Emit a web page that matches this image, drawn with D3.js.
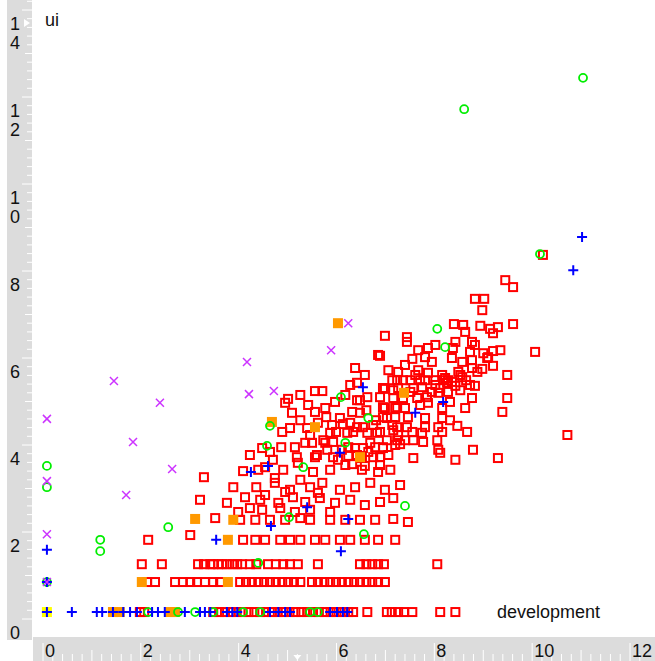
<!DOCTYPE html>
<html>
<head>
<meta charset="utf-8">
<script src="https://cdn.jsdelivr.net/npm/d3@7.9.0/dist/d3.min.js"></script>
<style>
  html, body { margin: 0; padding: 0; background: #fff; }
  svg { display: block; }
  text { font-family: "Liberation Sans", Arial, sans-serif; fill: #111; }
</style>
</head>
<body>
<svg id="chart" width="655" height="661"></svg>
<script>
// axis names and tick labels
const xName = 'development';
const yName = 'ui';
const xLabels = [0, 2, 4, 6, 8, 10, 12];
const yLabels = [0, 2, 4, 6, 8, 10, 12, 14];

// points per class, [development, ui]
const redPoints = [
  [8.83,7.36],[9.02,7.36],[8.98,7.10],[9.61,7.63],[9.45,7.79],[10.22,8.37],
  [8.40,6.78],[8.59,6.76],[8.63,6.60],[8.94,6.74],[9.14,6.67],[9.30,6.71],[9.20,6.57],[9.61,6.78],
  [6.99,6.51],[7.44,6.48],[7.44,6.37],
  [8.43,6.37],[8.77,6.37],[8.83,6.30],[8.02,6.30],[8.38,6.23],[8.36,6.00],[8.73,6.14],[9.00,6.11],[9.10,6.02],[9.20,6.16],[9.35,6.18],[10.06,6.14],
  [7.67,6.18],[7.87,6.23],[7.81,6.02],[7.95,5.91],[7.55,5.98],[7.40,5.84],[6.89,6.05],
  [8.77,5.95],[9.08,6.00],[8.77,5.77],[8.98,5.75],[9.20,5.82],
  [7.26,5.68],[7.67,5.72],[7.87,5.66],[8.16,5.61],[8.53,5.61],[8.57,5.56],[9.49,5.61],[8.83,5.36],
  [7.24,5.49],[7.36,5.49],[7.51,5.49],[7.71,5.49],[8.02,5.49],[8.18,5.49],[8.28,5.49],
  [6.95,5.31],[7.16,5.26],[7.57,5.31],[7.75,5.33],[8.02,5.38],[8.26,5.43],[8.43,5.36],
  [7.16,5.08],[7.65,5.08],[7.85,5.10],[8.08,5.20],[8.32,4.99],[8.77,5.08],[9.49,5.08],
  [7.24,4.87],[7.40,4.85],[7.71,4.92],[7.87,4.97],[8.16,4.85],[8.63,4.85],
  [6.99,4.85],[6.95,4.64],[7.20,4.64],[7.46,4.64],[7.81,4.62],[8.16,4.62],[8.32,4.57],[9.39,4.76],
  [7.24,4.41],[7.44,4.41],[7.81,4.41],[8.08,4.41],[8.47,4.44],
  [6.89,4.30],[7.16,4.34],[7.55,4.30],[7.75,4.28],[8.16,4.30],[8.67,4.30],[10.72,4.23],
  [7.03,4.11],[7.24,4.11],[7.57,4.11],[7.77,4.07],[8.06,4.11],
  [6.95,3.93],[7.30,4.02],[8.08,3.89],[8.12,3.82],[8.79,3.89],[9.30,3.70],[8.43,3.66],[7.57,3.70],
  [8.22,5.54],[8.36,5.45],[8.49,5.68],[8.65,5.49],[8.12,5.31],[8.28,5.22],[8.53,5.26],[7.95,5.22],
  [7.81,5.49],[7.61,5.61],[7.51,5.22],[7.36,5.08],[7.26,5.31],[7.14,5.49],[7.06,5.72],[8.73,5.38],[8.88,5.68],[8.57,5.91],
  [6.85,6.07],[6.58,5.61],[6.42,5.43],[6.63,5.10],[6.42,5.03],[6.48,5.03],[6.89,5.10],[6.99,5.29],
  [5.56,5.24],[5.71,5.24],[5.01,5.06],[4.95,4.97],[5.09,4.74],[5.79,4.64],[5.62,4.51],[5.40,4.39],
  [5.99,4.30],[6.13,4.48],[6.28,4.51],[6.42,4.41],[6.54,4.41],[6.75,4.46],[7.03,4.62],[7.20,4.85],[6.95,4.87],[6.48,4.74],
  [6.11,3.89],[6.24,3.75],[6.38,3.93],[6.52,3.70],[6.65,3.84],[6.79,3.95],[6.03,3.66],[6.32,3.56],[6.58,3.52],[6.89,3.54],
  [7.06,3.77],[7.20,4.00],[7.26,4.23],[7.40,4.11],[7.14,4.46],[6.81,4.57],[6.61,4.80],[6.32,4.76],[6.07,4.62],[5.91,4.46],[5.81,3.89],[5.93,4.07],
  [5.26,5.15],[5.42,4.92],[5.56,4.76],[5.26,4.57],[5.05,4.39],[4.89,4.30],[5.46,4.23],[5.77,4.85],[5.97,4.99],[6.18,5.15],[6.28,5.38],[6.38,5.77],
  [4.87,3.95],[5.15,3.95],[5.36,4.05],[5.50,4.05],[5.73,4.11],[5.77,4.05],[5.60,3.77],[5.87,4.28],
  [6.22,4.28],[6.34,4.30],[6.63,4.28],[6.83,4.28],[6.24,3.95],[6.54,3.93],[6.69,4.05],[6.95,3.95],
  [4.23,3.77],[4.70,3.66],[5.19,3.72],[5.56,3.72],[5.93,3.72],[6.42,3.77],[6.75,3.72],[6.89,3.72],
  [4.48,3.93],[4.64,3.84],[4.40,3.43],[4.74,3.24],[4.54,2.85],[4.95,2.92],[5.26,3.20],[5.62,2.90],
  [5.87,2.46],[5.46,2.51],[5.15,2.46],[4.85,2.55],[4.48,2.51],[4.23,2.55],[3.99,2.46],
  [3.29,3.26],[4.09,3.40],[4.54,3.49],[4.91,3.43],[5.21,3.59],[5.52,3.38],[5.87,3.43],[6.18,3.54],[6.52,3.43],[6.85,3.38],[7.10,3.43],
  [3.89,3.03],[4.36,3.03],[4.74,3.13],[5.05,2.97],[5.46,3.03],[5.71,3.13],[6.07,2.97],[6.38,3.03],[6.69,3.13],[6.99,2.97],[7.30,3.08],
  [3.21,2.74],[3.76,2.67],[4.13,2.80],[4.44,2.74],[4.81,2.67],[5.11,2.80],[5.36,2.69],[5.66,2.78],[5.97,2.67],[6.28,2.74],[6.58,2.62],[6.89,2.69],[7.16,2.78],
  [3.52,2.32],[4.03,2.28],[4.34,2.28],[4.64,2.28],[4.95,2.28],[5.26,2.32],[5.46,2.28],[5.87,2.28],[6.18,2.28],[6.48,2.28],[6.79,2.28],[7.16,2.30],[7.46,2.23],
  [2.15,1.82],[3.01,1.93],[4.09,1.82],[4.34,1.82],[4.54,1.82],[4.85,1.82],[5.05,1.82],[5.26,1.82],[5.56,1.82],[5.77,1.82],[6.07,1.82],[6.28,1.82],[6.58,1.82],[6.85,1.82],[7.20,1.82],
  [2.02,1.26],[2.43,1.26],[3.17,1.26],[3.29,1.26],[3.42,1.26],[3.48,1.26],[3.58,1.26],[3.66,1.26],[3.76,1.26],[3.87,1.26],[3.97,1.26],[4.07,1.26],
  [4.23,1.26],[4.36,1.26],[4.60,1.26],[4.76,1.26],[4.91,1.26],[5.05,1.26],[5.21,1.26],[5.62,1.26],[6.48,1.26],[6.61,1.26],[6.73,1.26],[6.85,1.26],[6.97,1.26],[8.06,1.26],
  [2.13,0.85],[2.29,0.85],[2.70,0.85],[2.86,0.85],[3.01,0.85],[3.15,0.85],[3.31,0.85],[3.48,0.85],[3.62,0.85],
  [4.03,0.85],[4.15,0.85],[4.27,0.85],[4.40,0.85],[4.52,0.85],[4.64,0.85],[4.76,0.85],[4.89,0.85],[5.01,0.85],[5.13,0.85],[5.26,0.85],
  [5.50,0.85],[5.62,0.85],[5.75,0.85],[5.87,0.85],[5.99,0.85],[6.11,0.85],[6.24,0.85],[6.36,0.85],[6.48,0.85],[6.61,0.85],[6.73,0.85],[6.85,0.85],[6.99,0.85],
  [1.98,0.16],[2.07,0.16],[3.48,0.16],[3.60,0.16],[3.72,0.16],[3.84,0.16],[3.96,0.16],[4.08,0.16],[4.20,0.16],[4.32,0.16],[4.44,0.16],[4.56,0.16],
  [4.68,0.16],[4.80,0.16],[4.92,0.16],[5.04,0.16],[5.16,0.16],[5.28,0.16],[5.40,0.16],[5.52,0.16],[5.64,0.16],[5.76,0.16],[5.88,0.16],[6.00,0.16],
  [6.12,0.16],[6.24,0.16],[6.34,0.16],[6.63,0.16],[7.03,0.16],[7.13,0.16],[7.26,0.16],[7.38,0.16],[7.55,0.16],[8.12,0.16],[8.43,0.16]
];
const greenPoints = [
  [11.04,12.44],[8.61,11.72],[10.16,8.39],[8.06,6.67],[8.22,6.25],[6.09,5.10],[6.65,4.62],[4.64,4.44],[4.58,3.98],[6.18,4.05],
  [7.40,2.60],[5.32,3.49],[6.56,1.95],[2.56,2.11],[5.03,2.34],[4.40,1.29],[1.17,1.82],[1.17,1.56],
  [0.08,3.52],[0.08,3.03],[0.08,0.85],
  [2.15,0.16],[2.76,0.16],[3.11,0.16],[3.48,0.16],[4.09,0.16],[4.44,0.16],[5.46,0.16],[5.62,0.16]
];
const bluePoints = [
  [11.02,8.78],[10.84,8.02],[8.18,4.99],[7.61,4.74],[6.54,5.33],[6.07,3.82],[4.25,3.38],[4.60,3.52],[6.24,2.30],[6.09,1.56],
  [3.54,1.82],[4.66,2.14],[5.40,2.57],[0.08,1.59],[0.08,0.85],
  [0.08,0.16],[0.59,0.16],[1.10,0.16],[1.21,0.16],[1.43,0.16],[1.64,0.16],[1.78,0.16],[1.92,0.16],[2.23,0.16],[2.35,0.16],[2.49,0.16],
  [2.90,0.16],[3.21,0.16],[3.31,0.16],[3.42,0.16],[3.76,0.16],[3.87,0.16],[3.97,0.16],[4.64,0.16],[4.81,0.16],[4.95,0.16],[5.05,0.16],
  [5.87,0.16],[6.01,0.16],[6.13,0.16],[6.22,0.16]
];
const purplePoints = [
  [0.08,4.60],[1.45,5.47],[2.39,4.97],[4.17,5.91],[4.21,5.17],[4.72,5.24],[6.24,6.80],[5.89,6.18],
  [1.84,4.07],[2.64,3.45],[1.70,2.85],[0.08,3.17],[0.08,1.95],[0.08,0.85]
];
const orangePoints = [
  [6.03,6.80],[4.68,4.53],[5.56,4.41],[3.89,2.28],[3.11,2.30],[3.78,1.82],[7.38,5.20],[6.48,3.72],
  [2.02,0.85],[3.78,0.85],[1.43,0.16],[1.57,0.16],[2.60,0.16],[2.70,0.16]
];
const yellowPoints = [[0.08,0.16]];

const svg = d3.select('#chart');
const W = 655, H = 661;

const x = d3.scaleLinear().domain([0, 12]).range([43, 630]);
const y = d3.scaleLinear().domain([0, 14]).range([619, 10]);

// rulers
const rulerFill = '#dcdcdc';
svg.append('rect').attr('x', 7).attr('y', 0).attr('width', 25).attr('height', 640).attr('fill', rulerFill);
svg.append('rect').attr('x', 33).attr('y', 637).attr('width', W - 33).attr('height', H - 637).attr('fill', rulerFill);

const xTicks = d3.range(0, 62).map(i => i * 0.2);
const yTicks = d3.range(0, 72).map(i => i * 0.2);
const tickLen = v => {
  const r = Math.round(v * 5);
  if (r % 10 === 0) return 'major';
  if (r % 5 === 0) return 'mid';
  return 'minor';
};

svg.append('g').selectAll('line').data(xTicks).join('line')
  .attr('x1', d => x(d)).attr('x2', d => x(d))
  .attr('y1', d => ({ major: 643, mid: 650, minor: 654 })[tickLen(d)])
  .attr('y2', H)
  .attr('stroke', '#fff').attr('stroke-width', 1);

svg.append('g').selectAll('line').data(yTicks).join('line')
  .attr('y1', d => y(d)).attr('y2', d => y(d))
  .attr('x1', d => ({ major: 22, mid: 25, minor: 27 })[tickLen(d)])
  .attr('x2', 32)
  .attr('stroke', '#fff').attr('stroke-width', 1);

svg.append('g').selectAll('text').data(xLabels).join('text')
  .attr('x', d => x(d) + 2).attr('y', 657)
  .attr('font-size', 18)
  .text(d => d);

const yLab = svg.append('g').selectAll('text').data(yLabels).join('text')
  .attr('text-anchor', 'middle')
  .attr('font-size', 18);
yLab.each(function (d) {
  const s = String(d).split('');
  const t = d3.select(this);
  s.forEach((c, i) => {
    t.append('tspan').attr('x', 15).attr('y', y(d) + 20 + i * 19).text(c);
  });
});

// little markers on the rulers
svg.append('path').attr('d', 'M24,19 L30,23 L24,27 Z').attr('fill', '#fff');
svg.append('path').attr('d', `M${x(5.2) - 4},655 L${x(5.2) + 4},655 L${x(5.2)},660 Z`).attr('fill', '#fff');

// axis names
svg.append('text').attr('x', 45).attr('y', 26).attr('font-size', 18).text(yName);
svg.append('text').attr('x', 497).attr('y', 618).attr('font-size', 18).text(xName);

// points
const pts = svg.append('g');

pts.selectAll('rect.red').data(redPoints).join('rect')
  .attr('class', 'red')
  .attr('x', d => x(d[0]) - 4).attr('y', d => y(d[1]) - 4)
  .attr('width', 8).attr('height', 8)
  .attr('fill', 'none').attr('stroke', '#ff0000').attr('stroke-width', 2);

pts.selectAll('rect.orange').data(orangePoints).join('rect')
  .attr('class', 'orange')
  .attr('x', d => x(d[0]) - 5).attr('y', d => y(d[1]) - 5)
  .attr('width', 10).attr('height', 10)
  .attr('fill', '#ff9900');

pts.selectAll('rect.yellow').data(yellowPoints).join('rect')
  .attr('class', 'yellow')
  .attr('x', d => x(d[0]) - 5).attr('y', d => y(d[1]) - 5)
  .attr('width', 10).attr('height', 10)
  .attr('fill', '#ffff00');

pts.selectAll('circle.green').data(greenPoints).join('circle')
  .attr('class', 'green')
  .attr('cx', d => x(d[0])).attr('cy', d => y(d[1])).attr('r', 4)
  .attr('fill', 'none').attr('stroke', '#00ee00').attr('stroke-width', 1.8);

pts.selectAll('path.blue').data(bluePoints).join('path')
  .attr('class', 'blue')
  .attr('transform', d => `translate(${x(d[0])},${y(d[1])})`)
  .attr('d', 'M-5,0H5M0,-5V5')
  .attr('stroke', '#0000ff').attr('stroke-width', 2);

pts.selectAll('path.purple').data(purplePoints).join('path')
  .attr('class', 'purple')
  .attr('transform', d => `translate(${x(d[0])},${y(d[1])})`)
  .attr('d', 'M-4,-4L4,4M-4,4L4,-4')
  .attr('stroke', '#cc33ff').attr('stroke-width', 1.5);
</script>
</body>
</html>
